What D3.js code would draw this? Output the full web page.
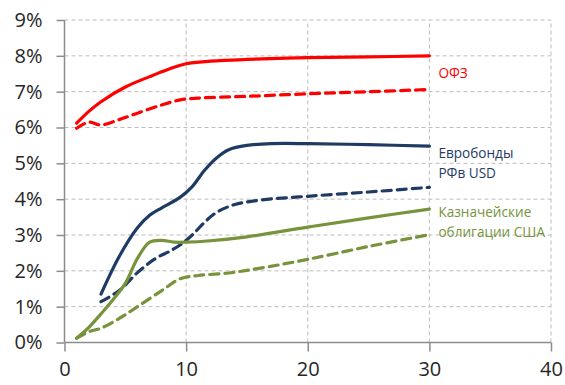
<!DOCTYPE html>
<html><head><meta charset="utf-8">
<script src="https://cdn.jsdelivr.net/npm/d3@7"></script>
<style>body{margin:0;background:#fff}svg{display:block}</style>
</head><body>
<svg id="c" width="565" height="385"></svg>
<script>
const xTicks = [0, 10, 20, 30, 40];
const yTicks = [0, 1, 2, 3, 4, 5, 6, 7, 8, 9];

const ofzSolid = [[1,6.12],[2,6.45],[3,6.72],[5,7.13],[7,7.42],[8.5,7.62],[10,7.78],[12,7.85],[15,7.9],[20,7.95],[25,7.97],[30,8.0]];
const ofzDashed = [[1,5.98],[2,6.15],[3,6.07],[4.5,6.22],[6,6.4],[8,6.63],[9.5,6.77],[11,6.82],[15,6.87],[20,6.94],[25,7.0],[30,7.06]];
const euroSolid = [[3,1.35],[4.5,2.4],[6,3.2],[7,3.55],[8,3.76],[9.5,4.05],[10.5,4.35],[11.5,4.8],[12.5,5.15],[13.5,5.38],[15,5.5],[17,5.55],[20,5.55],[25,5.52],[30,5.48]];
const euroDashed = [[3,1.14],[4.5,1.45],[6,1.95],[7.5,2.35],[8.5,2.52],[9.5,2.72],[10.5,3.0],[11.5,3.35],[12.5,3.63],[14,3.85],[16,3.97],[20,4.08],[25,4.2],[30,4.33]];
const ustSolid = [[1,0.12],[2,0.42],[3,0.8],[4,1.2],[5,1.65],[6,2.35],[7,2.8],[8,2.85],[9,2.8],[10,2.8],[12,2.84],[15,2.95],[20,3.22],[25,3.48],[30,3.72]];
const ustDashed = [[1,0.12],[2,0.3],[3,0.4],[4.5,0.67],[6,1.0],[8,1.45],[9.5,1.78],[11,1.87],[13.5,1.94],[16,2.07],[20,2.32],[25,2.68],[30,3.01]];

const labels = [
  {lines:["ОФЗ"], x:30, y:7.38, color:"#FF0000"},
  {lines:["Евробонды","РФв USD"], x:30, y:5.15, color:"#1F3B63"},
  {lines:["Казначейские","облигации США"], x:30, y:3.5, color:"#77933C"}
];

const svg = d3.select("#c");
const x = d3.scaleLinear().domain([0,40]).range([64.5,551]);
const y = d3.scaleLinear().domain([0,9]).range([342.5,20]);

const grid = svg.append("g").attr("stroke","#bcbcbc").attr("stroke-width",1).attr("stroke-dasharray","4,3");
yTicks.filter(d=>d>0).forEach(t=>{
  grid.append("line").attr("x1",x(0)).attr("x2",x(40)).attr("y1",y(t)).attr("y2",y(t));
});
xTicks.filter(d=>d>0).forEach(t=>{
  grid.append("line").attr("x1",x(t)).attr("x2",x(t)).attr("y1",y(0)).attr("y2",y(9));
});

const yAxis = svg.append("g").attr("transform",`translate(${x(0)},0)`)
  .call(d3.axisLeft(y).tickValues(yTicks).tickFormat(d=>d+"%").tickSize(8).tickPadding(14));
const xAxis = svg.append("g").attr("transform",`translate(0,${y(0)})`)
  .call(d3.axisBottom(x).tickValues(xTicks).tickSize(9).tickPadding(10));
[yAxis,xAxis].forEach(a=>{
  a.selectAll("path,line").attr("stroke","#8c8c8c").attr("stroke-width",1.5);
  a.selectAll("text").attr("fill","#262626").style("font-family","'Open Sans', 'Noto Sans', sans-serif").style("font-size","20px");
});
yAxis.select(".domain").attr("d",`M0,${y(9)}V${y(0)}`);
xAxis.select(".domain").attr("d",`M${x(0)},0H${x(40)}`);

const line = d3.line().x(d=>x(d[0])).y(d=>y(d[1])).curve(d3.curveCatmullRom.alpha(0.5));
const series = [
  {data:ofzSolid, color:"#FF0000", dash:null},
  {data:ofzDashed, color:"#FF0000", dash:"9,6"},
  {data:euroSolid, color:"#1F3B63", dash:null},
  {data:euroDashed, color:"#1F3B63", dash:"9,6"},
  {data:ustSolid, color:"#77933C", dash:null},
  {data:ustDashed, color:"#77933C", dash:"9,6"}
];
series.forEach(s=>{
  svg.append("path").attr("d",line(s.data)).attr("fill","none")
    .attr("stroke",s.color).attr("stroke-width",3.2).attr("stroke-linecap","round")
    .attr("stroke-dasharray",s.dash);
});

labels.forEach(l=>{
  const t = svg.append("text").attr("fill",l.color)
    .style("font-family","'Open Sans', 'Noto Sans', sans-serif").style("font-size","13.6px");
  l.lines.forEach((ln,i)=>{
    t.append("tspan").attr("x",x(l.x)+9).attr("y",y(l.y)+i*20).text(ln);
  });
});
</script>
</body></html>
